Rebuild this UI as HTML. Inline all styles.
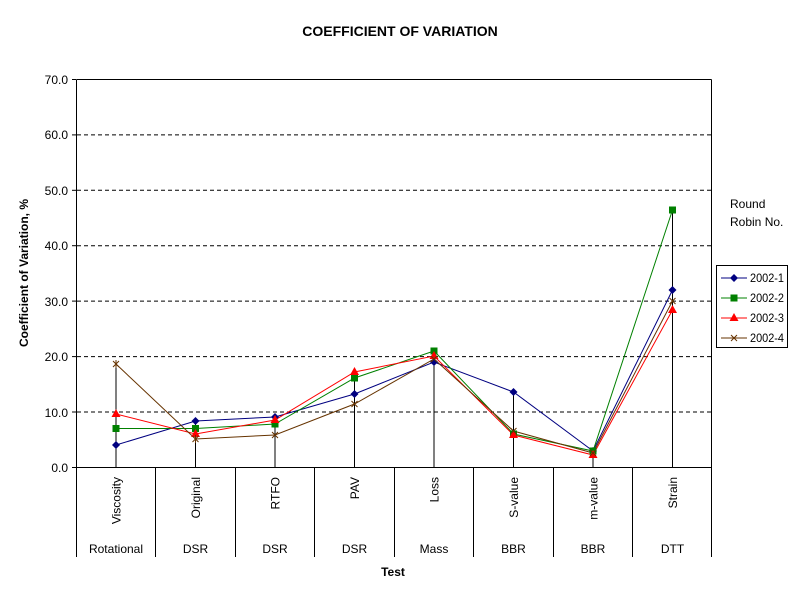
<!DOCTYPE html>
<html><head><meta charset="utf-8"><style>
html,body{margin:0;padding:0;background:#fff}
svg{display:block}
text{font-family:"Liberation Sans",Arial,sans-serif;font-size:12px;fill:#000}
</style></head><body>
<svg width="800" height="600" viewBox="0 0 800 600" xmlns="http://www.w3.org/2000/svg">
<rect width="800" height="600" fill="#fff"/>
<text x="400" y="36" text-anchor="middle" font-weight="bold" style="font-size:14px">COEFFICIENT OF VARIATION</text>
<g stroke="#000" stroke-width="1" stroke-dasharray="4,3">
<line x1="77" y1="134.9" x2="711" y2="134.9"/>
<line x1="77" y1="190.3" x2="711" y2="190.3"/>
<line x1="77" y1="245.7" x2="711" y2="245.7"/>
<line x1="77" y1="301.1" x2="711" y2="301.1"/>
<line x1="77" y1="356.6" x2="711" y2="356.6"/>
<line x1="77" y1="412" x2="711" y2="412"/>
</g>
<g stroke="#000" stroke-width="1" fill="none">
<line x1="76.5" y1="79.5" x2="711.5" y2="79.5"/>
<line x1="711.5" y1="79.5" x2="711.5" y2="467.5"/>
<line x1="76.5" y1="79.5" x2="76.5" y2="557"/>
<line x1="76" y1="467.5" x2="711" y2="467.5"/>
<line x1="72" y1="79.5" x2="76" y2="79.5"/><line x1="72" y1="134.9" x2="76" y2="134.9"/>
<line x1="72" y1="190.3" x2="76" y2="190.3"/><line x1="72" y1="245.7" x2="76" y2="245.7"/>
<line x1="72" y1="301.1" x2="76" y2="301.1"/><line x1="72" y1="356.6" x2="76" y2="356.6"/>
<line x1="72" y1="412" x2="76" y2="412"/><line x1="72" y1="467.5" x2="76" y2="467.5"/>
<line x1="155.5" y1="467" x2="155.5" y2="557"/><line x1="235.5" y1="467" x2="235.5" y2="557"/>
<line x1="314.5" y1="467" x2="314.5" y2="557"/><line x1="394.5" y1="467" x2="394.5" y2="557"/>
<line x1="473.5" y1="467" x2="473.5" y2="557"/><line x1="553.5" y1="467" x2="553.5" y2="557"/>
<line x1="632.5" y1="467" x2="632.5" y2="557"/><line x1="711.5" y1="467" x2="711.5" y2="557"/>
<line x1="116" y1="364" x2="116" y2="467"/><line x1="195.5" y1="421" x2="195.5" y2="467"/>
<line x1="275" y1="417" x2="275" y2="467"/><line x1="354.5" y1="372" x2="354.5" y2="467"/>
<line x1="434" y1="351" x2="434" y2="467"/><line x1="513.5" y1="392" x2="513.5" y2="467"/>
<line x1="593" y1="451" x2="593" y2="467"/><line x1="672.5" y1="210" x2="672.5" y2="467"/>
</g>
<g text-anchor="end">
<text x="68" y="84">70.0</text><text x="68" y="139">60.0</text><text x="68" y="195">50.0</text>
<text x="68" y="250">40.0</text><text x="68" y="306">30.0</text><text x="68" y="361">20.0</text>
<text x="68" y="417">10.0</text><text x="68" y="472">0.0</text>
</g>
<text transform="translate(28,273) rotate(-90)" text-anchor="middle" font-weight="bold">Coefficient of Variation, %</text>
<g text-anchor="end" style="font-size:13px">
<text transform="translate(120.5,477) rotate(-90)">Viscosity</text>
<text transform="translate(200,477) rotate(-90)">Original</text>
<text transform="translate(279.5,477) rotate(-90)">RTFO</text>
<text transform="translate(359,477) rotate(-90)">PAV</text>
<text transform="translate(438.5,477) rotate(-90)">Loss</text>
<text transform="translate(518,477) rotate(-90)">S-value</text>
<text transform="translate(597.5,477) rotate(-90)">m-value</text>
<text transform="translate(677,477) rotate(-90)">Strain</text>
</g>
<g text-anchor="middle">
<text x="116" y="553">Rotational</text><text x="195.5" y="553">DSR</text><text x="275" y="553">DSR</text>
<text x="354.5" y="553">DSR</text><text x="434" y="553">Mass</text><text x="513.5" y="553">BBR</text>
<text x="593" y="553">BBR</text><text x="672.5" y="553">DTT</text>
<text x="393" y="576" font-weight="bold">Test</text>
</g>
<polyline fill="none" stroke="#000080" points="116,445 195.5,421 275,417 354.5,394 434,362 513.5,392 593,451 672.5,290"/>
<polyline fill="none" stroke="#008000" points="116,428.5 195.5,428.5 275,424 354.5,378 434,351 513.5,434 593,451 672.5,210"/>
<polyline fill="none" stroke="#ff0000" points="116,414 195.5,434 275,420 354.5,372 434,356 513.5,435 593,455 672.5,310"/>
<polyline fill="none" stroke="#663300" points="116,364 195.5,439 275,435 354.5,404 434,359 513.5,431 593,453 672.5,301"/>
<g fill="#000080">
<path d="M116,441l4,4l-4,4l-4,-4z"/><path d="M195.5,417l4,4l-4,4l-4,-4z"/><path d="M275,413l4,4l-4,4l-4,-4z"/><path d="M354.5,390l4,4l-4,4l-4,-4z"/><path d="M434,358l4,4l-4,4l-4,-4z"/><path d="M513.5,388l4,4l-4,4l-4,-4z"/><path d="M593,447l4,4l-4,4l-4,-4z"/><path d="M672.5,286l4,4l-4,4l-4,-4z"/>
</g>
<g fill="#008000">
<rect x="112.5" y="425" width="7" height="7"/><rect x="192" y="425" width="7" height="7"/><rect x="271.5" y="420.5" width="7" height="7"/><rect x="351" y="374.5" width="7" height="7"/><rect x="430.5" y="347.5" width="7" height="7"/><rect x="510" y="430.5" width="7" height="7"/><rect x="589.5" y="447.5" width="7" height="7"/><rect x="669" y="206.5" width="7" height="7"/>
</g>
<g fill="#ff0000">
<path d="M116,409l4.5,8h-9z"/><path d="M195.5,429l4.5,8h-9z"/><path d="M275,415l4.5,8h-9z"/><path d="M354.5,367l4.5,8h-9z"/><path d="M434,351l4.5,8h-9z"/><path d="M513.5,430l4.5,8h-9z"/><path d="M593,450l4.5,8h-9z"/><path d="M672.5,305l4.5,8h-9z"/>
</g>
<g stroke="#663300" stroke-width="1">
<path d="M113,361l6,6M119,361l-6,6M116,360v8"/><path d="M192.5,436l6,6M198.5,436l-6,6M195.5,435v8"/><path d="M272,432l6,6M278,432l-6,6"/><path d="M351.5,401l6,6M357.5,401l-6,6"/><path d="M431,356l6,6M437,356l-6,6"/><path d="M510.5,428l6,6M516.5,428l-6,6"/><path d="M590,450l6,6M596,450l-6,6"/><path d="M669.5,298l6,6M675.5,298l-6,6"/>
</g>
<text x="730" y="208">Round</text><text x="730" y="226">Robin No.</text>
<rect x="716.5" y="265.5" width="71" height="82" fill="#fff" stroke="#000"/>
<line x1="721" y1="278" x2="747" y2="278" stroke="#000080"/><path d="M734,274l4,4l-4,4l-4,-4z" fill="#000080"/>
<line x1="721" y1="298" x2="747" y2="298" stroke="#008000"/><rect x="730.5" y="294.5" width="7" height="7" fill="#008000"/>
<line x1="721" y1="318" x2="747" y2="318" stroke="#ff0000"/><path d="M734,313l4.5,8h-9z" fill="#ff0000"/>
<line x1="721" y1="338" x2="747" y2="338" stroke="#663300"/><path d="M731,335l6,6M737,335l-6,6" stroke="#663300"/>
<g>
<text x="750" y="282" textLength="34" lengthAdjust="spacingAndGlyphs">2002-1</text>
<text x="750" y="302" textLength="34" lengthAdjust="spacingAndGlyphs">2002-2</text>
<text x="750" y="322" textLength="34" lengthAdjust="spacingAndGlyphs">2002-3</text>
<text x="750" y="342" textLength="34" lengthAdjust="spacingAndGlyphs">2002-4</text>
</g>
</svg>
</body></html>
